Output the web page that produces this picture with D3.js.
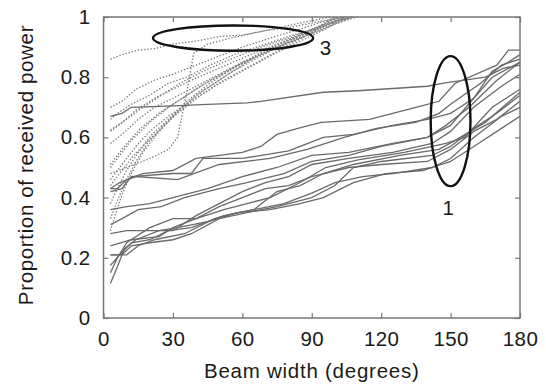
<!DOCTYPE html>
<html>
<head>
<meta charset="utf-8">
<script src="https://cdn.jsdelivr.net/npm/d3@7"></script>
<style>
  body { margin: 0; background: #fff; }
  text { font-family: "Liberation Sans", Arial, sans-serif; fill: #1a1a1a; }
</style>
</head>
<body>
<div id="chart"></div>
<script>
// axis ticks
var xTicks = [0, 30, 60, 90, 120, 150, 180];
var yTicks = [0, 0.2, 0.4, 0.6, 0.8, 1];

// solid curves: [beam width, proportion]
var solidLines = [
    [[3,.67],[8,.68],[12,.70],[30,.705],[45,.71],[62,.715],[68,.72],[95,.75],[110,.755],[140,.77],[147,.78],[165,.80],[173,.83],[180,.84]],
    [[3,.43],[6,.43],[10,.46],[17,.48],[30,.49],[40,.53],[60,.55],[68,.57],[75,.61],[84,.63],[94,.65],[115,.66],[135,.70],[145,.72],[152,.78],[170,.84],[175,.89],[180,.89]],
    [[3,.42],[8,.43],[12,.47],[30,.48],[38,.48],[43,.53],[60,.53],[80,.555],[95,.60],[108,.61],[125,.64],[140,.66],[150,.68],[160,.73],[168,.82],[175,.85],[180,.875]],
    [[3,.43],[7,.45],[14,.47],[32,.46],[50,.51],[72,.53],[88,.56],[104,.60],[118,.63],[135,.65],[145,.68],[150,.71],[163,.78],[172,.84],[180,.86]],
    [[3,.36],[10,.37],[20,.38],[30,.40],[45,.43],[60,.47],[75,.50],[90,.54],[106,.55],[125,.58],[140,.60],[148,.64],[158,.70],[170,.79],[180,.85]],
    [[3,.31],[8,.33],[15,.36],[25,.37],[35,.40],[50,.43],[62,.45],[78,.48],[90,.52],[106,.54],[120,.57],[140,.60],[150,.64],[160,.73],[168,.80],[180,.85]],
    [[3,.28],[10,.29],[30,.29],[40,.34],[50,.38],[60,.42],[70,.45],[80,.47],[90,.51],[106,.53],[125,.55],[142,.58],[150,.62],[160,.70],[172,.77],[180,.81]],
    [[3,.24],[12,.26],[24,.27],[30,.30],[40,.33],[52,.36],[62,.38],[72,.40],[85,.45],[96,.50],[110,.525],[130,.55],[148,.58],[156,.60],[168,.70],[180,.76]],
    [[3,.21],[10,.21],[15,.24],[22,.26],[35,.28],[48,.33],[58,.35],[65,.36],[75,.42],[85,.44],[95,.48],[108,.51],[128,.54],[145,.56],[152,.59],[165,.65],[180,.75]],
    [[3,.21],[8,.21],[12,.24],[20,.25],[30,.26],[38,.28],[50,.33],[62,.35],[75,.37],[90,.40],[100,.44],[108,.50],[120,.52],[142,.54],[150,.57],[160,.63],[170,.68],[180,.74]],
    [[3,.175],[7,.21],[12,.25],[20,.26],[28,.29],[38,.30],[52,.34],[65,.36],[78,.38],[90,.415],[100,.45],[112,.47],[125,.48],[142,.50],[150,.53],[160,.60],[172,.67],[180,.70]],
    [[3,.115],[6,.17],[9,.23],[14,.26],[24,.29],[32,.30],[45,.32],[58,.35],[72,.36],[85,.38],[95,.40],[108,.45],[122,.48],[138,.49],[150,.52],[162,.58],[172,.63],[180,.67]],
    [[3,.15],[6,.20],[10,.25],[20,.30],[30,.33],[40,.33],[50,.37],[60,.40],[70,.43],[80,.44],[90,.47],[106,.50],[120,.51],[140,.52],[150,.56],[160,.62],[170,.66],[180,.72]]
];

// dotted curves: [beam width, proportion]
var dottedLines = [
    [[3,.86],[8,.875],[15,.89],[22,.895],[30,.91],[40,.92],[50,.935],[60,.94],[70,.955],[80,.965],[90,.98],[100,.995],[106,1]],
    [[3,.70],[8,.72],[14,.76],[22,.79],[30,.81],[40,.84],[50,.87],[60,.90],[72,.93],[85,.96],[95,.985],[104,1]],
    [[3,.66],[6,.68],[12,.71],[20,.74],[28,.78],[36,.80],[46,.84],[58,.88],[70,.91],[82,.94],[95,.97],[102,.99],[108,1]],
    [[3,.625],[8,.65],[14,.69],[22,.73],[30,.76],[38,.79],[50,.83],[62,.87],[75,.91],[88,.95],[100,.98],[107,1]],
    [[3,.48],[10,.50],[20,.53],[28,.56],[32,.60],[36,.75],[39,.88],[45,.91],[55,.93],[70,.955],[85,.98],[98,1]],
    [[3,.58],[8,.61],[15,.66],[22,.70],[30,.73],[40,.77],[50,.81],[60,.85],[72,.89],[85,.93],[98,.97],[105,.99],[110,1]],
    [[3,.50],[7,.54],[12,.59],[20,.65],[28,.70],[36,.74],[46,.79],[58,.84],[70,.88],[82,.92],[95,.96],[104,.99],[108,1]],
    [[3,.46],[8,.51],[14,.57],[20,.62],[28,.67],[38,.72],[48,.77],[60,.82],[72,.87],[85,.92],[96,.96],[104,1]],
    [[3,.44],[7,.48],[12,.53],[18,.58],[25,.63],[32,.68],[42,.74],[52,.79],[64,.84],[76,.89],[88,.94],[98,.98],[103,1]],
    [[3,.51],[9,.57],[16,.63],[24,.68],[32,.72],[42,.77],[54,.82],[66,.87],[78,.91],[90,.95],[100,.985],[105,1]],
    [[3,.38],[6,.43],[10,.49],[15,.55],[21,.61],[28,.66],[36,.72],[46,.78],[58,.84],[70,.89],[82,.93],[94,.97],[102,1]],
    [[3,.33],[6,.39],[10,.46],[14,.52],[19,.58],[26,.64],[34,.70],[44,.76],[56,.82],[68,.87],[80,.92],[92,.96],[100,1]],
    [[3,.29],[5,.34],[8,.41],[12,.48],[17,.55],[23,.61],[30,.67],[40,.74],[52,.80],[64,.86],[76,.91],[88,.95],[98,.99],[101,1]],
    [[3,.62],[10,.66],[17,.70],[25,.74],[33,.78],[43,.82],[55,.86],[68,.90],[80,.93],[92,.965],[102,.99],[108,1]]
];

// annotations: ellipse centre/radii in data units, label position
var groupLabels = ["3", "1"];
var ellipseCentres = [[56, 0.93], [150, 0.654]];
var ellipseRadii = [[34.6, 0.042], [8.6, 0.216]];
var labelPositions = [[93.5, 0.875], [146.5, 0.343]];

var width = 546, height = 385;
var margin = {left: 103.5, right: 26, top: 17, bottom: 67};

var x = d3.scaleLinear().domain([0, 180]).range([margin.left, width - margin.right]);
var y = d3.scaleLinear().domain([0, 1]).range([height - margin.bottom, margin.top]);

var svg = d3.select("#chart").append("svg")
    .attr("width", width)
    .attr("height", height);

var line = d3.line()
    .x(function (d) { return x(d[0]); })
    .y(function (d) { return y(d[1]); });

// dotted group
svg.append("g").selectAll("path")
    .data(dottedLines)
    .enter().append("path")
    .attr("d", line)
    .attr("fill", "none")
    .attr("stroke", "#7a7a7a")
    .attr("stroke-width", 1.3)
    .attr("stroke-dasharray", "1.4,1.8");

// solid group
svg.append("g").selectAll("path")
    .data(solidLines)
    .enter().append("path")
    .attr("d", line)
    .attr("fill", "none")
    .attr("stroke", "#6a6a6a")
    .attr("stroke-width", 1.3);

// axes, ticks pointing inward on every side
var fmt = function (d) { return String(+d.toFixed(1)); };
var axisStyle = function (g) {
    g.select(".domain").remove();
    g.selectAll(".tick line").attr("stroke", "#777").attr("stroke-width", 1.2);
    g.selectAll(".tick text")
        .attr("font-size", "20.5px")
        .attr("letter-spacing", "0.4px")
        .attr("fill", "#1a1a1a");
};

svg.append("g")
    .attr("transform", "translate(0," + y(0) + ")")
    .call(d3.axisBottom(x).tickValues(xTicks).tickSizeInner(-5).tickSizeOuter(0).tickPadding(13))
    .call(axisStyle);
svg.append("g")
    .attr("transform", "translate(" + x(0) + ",0)")
    .call(d3.axisLeft(y).tickValues(yTicks).tickFormat(fmt).tickSizeInner(-5).tickSizeOuter(0).tickPadding(13))
    .call(axisStyle);
svg.append("g")
    .attr("transform", "translate(0," + y(1) + ")")
    .call(d3.axisTop(x).tickValues(xTicks).tickSizeInner(-5).tickSizeOuter(0).tickFormat(""))
    .call(axisStyle);
svg.append("g")
    .attr("transform", "translate(" + x(180) + ",0)")
    .call(d3.axisRight(y).tickValues(yTicks).tickSizeInner(-5).tickSizeOuter(0).tickFormat(""))
    .call(axisStyle);

svg.append("rect")
    .attr("x", x(0))
    .attr("y", y(1))
    .attr("width", x(180) - x(0))
    .attr("height", y(0) - y(1))
    .attr("fill", "none")
    .attr("stroke", "#777")
    .attr("stroke-width", 1.5);

// ellipses and their labels
svg.append("g").selectAll("ellipse")
    .data(ellipseCentres)
    .enter().append("ellipse")
    .attr("cx", function (d) { return x(d[0]); })
    .attr("cy", function (d) { return y(d[1]); })
    .attr("rx", function (d, i) { return x(ellipseRadii[i][0]) - x(0); })
    .attr("ry", function (d, i) { return y(0) - y(ellipseRadii[i][1]); })
    .attr("fill", "none")
    .attr("stroke", "#111")
    .attr("stroke-width", 2.4);

svg.append("g").selectAll("text")
    .data(groupLabels)
    .enter().append("text")
    .attr("x", function (d, i) { return x(labelPositions[i][0]); })
    .attr("y", function (d, i) { return y(labelPositions[i][1]); })
    .attr("font-size", "20.5px")
    .text(function (d) { return d; });

// axis titles
svg.append("text")
    .attr("x", (x(0) + x(180)) / 2)
    .attr("y", 378)
    .attr("text-anchor", "middle")
    .attr("font-size", "20.5px")
    .attr("letter-spacing", "0.75px")
    .text("Beam width (degrees)");

svg.append("text")
    .attr("transform", "translate(33," + 165 + ") rotate(-90)")
    .attr("text-anchor", "middle")
    .attr("font-size", "20.5px")
    .attr("letter-spacing", "0.65px")
    .text("Proportion of received power");
</script>
</body>
</html>
